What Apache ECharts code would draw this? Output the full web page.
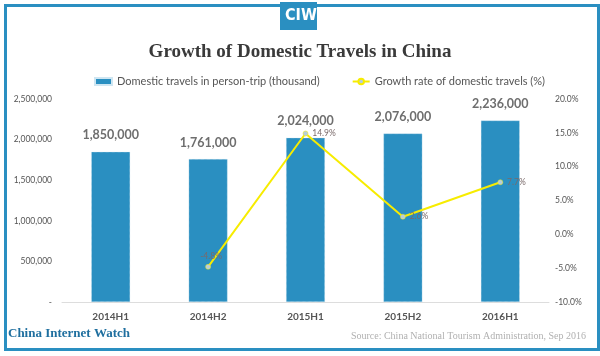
<!DOCTYPE html>
<html><head><meta charset="utf-8">
<script src="https://cdn.jsdelivr.net/npm/echarts@6/dist/echarts.min.js"></script>
<style>html,body{margin:0;padding:0;background:#fff}#c{width:600px;height:356px}</style>
</head><body><div id="c"></div>
<script>
const categories = ['2014H1','2014H2','2015H1','2015H2','2016H1'];
const travels = [1850000, 1761000, 2024000, 2076000, 2236000];
const growth = [null, -4.8, 14.9, 2.6, 7.7];
const leftTicks = [0, 500000, 1000000, 1500000, 2000000, 2500000];
const rightTicks = [-10, -5, 0, 5, 10, 15, 20];

const blue = '#2a8fc1';
const chart = echarts.init(document.getElementById('c'));
const fmt = v => v.toString().replace(/\B(?=(\d{3})+(?!\d))/g, ',');
chart.setOption({
  animation: false,
  backgroundColor: '#fff',
  title: {
    text: 'Growth of Domestic Travels in China',
    left: 'center', top: 38,
    textStyle: {fontFamily: 'Liberation Serif', fontWeight: 'bold', fontSize: 19, color: '#3a3a3a'}
  },
  legend: {
    top: 71, left: 89, itemGap: 32, itemWidth: 17, itemHeight: 7,
    textStyle: {fontFamily: 'Lato', fontSize: 11, color: '#555'},
    data: [
      {name: 'Domestic travels in person-trip (thousand)', icon: 'rect'},
      {name: 'Growth rate of domestic travels (%)'}
    ]
  },
  grid: {left: 62, right: 51, top: 99, bottom: 54},
  xAxis: {
    type: 'category', data: categories,
    axisLine: {lineStyle: {color: '#ddd'}},
    axisTick: {show: false},
    axisLabel: {fontFamily: 'Lato', fontSize: 10, color: '#555', fontWeight: 'bold', margin: 10}
  },
  yAxis: [
    {type: 'value', min: leftTicks[0], max: leftTicks[leftTicks.length-1], interval: 500000,
     splitLine: {show: false}, axisLine: {show: false}, axisTick: {show: false},
     axisLabel: {fontFamily: 'Lato', fontSize: 8.5, color: '#555', margin: 10,
       formatter: v => v === 0 ? '-' : fmt(v)}},
    {type: 'value', min: rightTicks[0], max: rightTicks[rightTicks.length-1], interval: 5,
     splitLine: {show: false}, axisLine: {show: false}, axisTick: {show: false},
     axisLabel: {fontFamily: 'Lato', fontSize: 8.5, color: '#555', margin: 6,
       formatter: v => v.toFixed(1) + '%'}}
  ],
  series: [
    {name: 'Domestic travels in person-trip (thousand)', type: 'bar', data: travels,
     barWidth: '40%', itemStyle: {color: blue, borderColor: '#cfe6f2', borderWidth: 0.6, borderType: 'dotted'},
     label: {show: true, position: 'top', distance: 10, formatter: p => fmt(p.value),
       fontFamily: 'Lato', fontSize: 12.5, fontWeight: 'bold', color: '#6e6e6e'}},
    {name: 'Growth rate of domestic travels (%)', type: 'line', yAxisIndex: 1,
     data: growth.map((v, i) => ({value: v, label: i === 1 ? {position: 'top', distance: 3, offset: [3, 0]} : {position: 'right', distance: 4}})),
     symbol: 'circle', symbolSize: 5,
     lineStyle: {color: '#f7ec00', width: 2},
     itemStyle: {color: '#b7cedb', borderColor: '#f7ec00', borderWidth: 0.5},
     label: {show: true, formatter: p => p.value.toFixed(1) + '%', fontFamily: 'Lato', fontSize: 8.5, color: '#7a6a6a'}}
  ],
  graphic: [
    {type: 'rect', left: 3, top: 3, shape: {width: 593, height: 344},
     style: {fill: 'none', stroke: blue, lineWidth: 3}, z: 100},
    {type: 'rect', left: 280, top: 2, shape: {width: 37, height: 28},
     style: {fill: blue}, z: 100},
    {type: 'text', left: 285, top: 8, z: 101,
     style: {text: 'CIW', fill: '#fff', font: 'bold 16px "Liberation Sans Narrow", "DejaVu Sans Condensed", sans-serif'}},
    {type: 'text', left: 8, top: 327, z: 101,
     style: {text: 'China Internet Watch', fill: '#1f6f9f', font: 'bold 13px "Liberation Serif", serif'}},
    {type: 'text', right: 14, top: 331, z: 101,
     style: {text: 'Source: China National Tourism Administration, Sep 2016', fill: '#b0b0b0', font: '10px "Liberation Serif", serif'}}
  ]
});
</script></body></html>
